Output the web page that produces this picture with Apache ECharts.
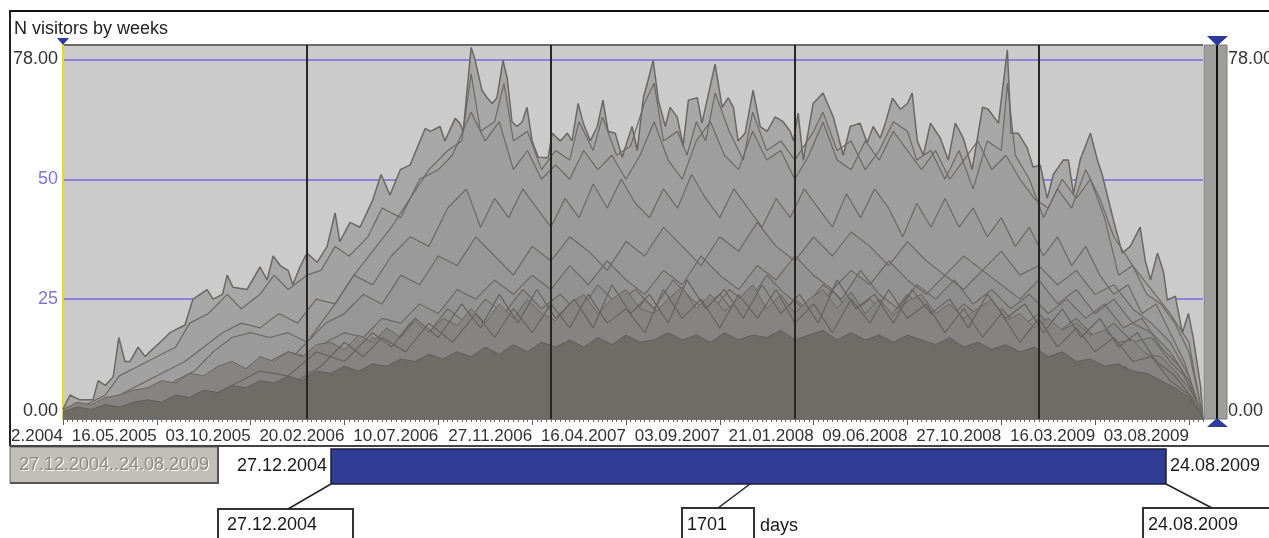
<!DOCTYPE html>
<html><head><meta charset="utf-8">
<script src="https://cdn.jsdelivr.net/npm/echarts@6/dist/echarts.min.js"></script>
<style>html,body{margin:0;padding:0;background:#fff}#c{width:1269px;height:538px}</style>
</head><body><div id="c"></div>
<script>
// ---- data (weeks since 27.12.2004, visitors) ----
const chartTitle = 'N visitors by weeks';
const tickLabels = ['27.12.2004','16.05.2005','03.10.2005','20.02.2006','10.07.2006','27.11.2006','16.04.2007','03.09.2007','21.01.2008','09.06.2008','27.10.2008','16.03.2009','03.08.2009'];
const tickWeeks = [0,20,40,60,80,100,120,140,160,180,200,220,240];
const totalWeeks = 243;
const yearMarks = [52,104,156,208];
const rangeStart = '27.12.2004';
const rangeEnd = '24.08.2009';
const rangeDays = '1701';

const envelope = [[0,2],[1.5,5],[3.6,4],[6.4,4],[7.5,8],[9,7],[10.7,8.8],[11.9,17],[13.2,12],[14.3,12],[16,15],[17.5,13],[18.5,14],[20.7,16],[22.8,18],[26,19.6],[27.7,25],[30.7,27],[32,25],[34,26],[35,30],[36.2,27.5],[39.2,27],[42,31.7],[43.5,29],[44.8,34],[46.3,32],[48,31],[49,28],[50.5,31.7],[52,34.6],[54.2,32.7],[56.3,36],[58,43],[59,37],[61.2,41],[63.3,40],[66,45.6],[67.8,51],[69.7,46.7],[71.9,52],[74,53],[77.2,60.6],[78.3,60],[80.4,61],[81.4,58],[83.6,62.7],[84.6,61.7],[85.3,60],[87,77.5],[87.8,75],[89.3,68.6],[90.4,67],[91.5,65.8],[92.5,67],[93.8,74.8],[94.7,71],[95.7,62],[96.8,61],[97.9,62],[98.9,65],[100,58],[101.3,54.6],[103.4,54.5],[104.3,59.6],[106,58],[107.5,59.6],[108.5,58],[109.8,65.8],[110.9,61.7],[112.4,58],[113.9,61],[115.1,66.5],[116.2,60],[117.7,59.6],[119.2,54.6],[120.3,58],[121.3,61],[122.4,56],[123.7,67],[124.7,70.6],[125.8,74.8],[126.9,66.5],[128.4,61],[129.4,65],[130.9,63],[132.2,57],[133.3,66.5],[135.2,67],[136.2,61.7],[137.3,66.5],[139,74],[140.5,65],[141.8,67],[142.9,65],[143.9,58],[145.4,59.6],[147.1,68.6],[148.6,61],[150.1,60],[151.8,63],[153.5,62],[155,60],[155.7,58],[156.7,63.8],[157.8,54],[159.9,65.8],[162,68],[164.2,63],[166.3,55],[167.8,61],[169.9,61.7],[171.4,57.6],[172.7,61],[174.2,58.6],[175.3,61.7],[176.8,66.9],[178.5,64.6],[180,65.8],[181,68],[182.1,58],[183.4,55],[184.9,61.7],[187,58.6],[188.7,54],[190.2,61.7],[191.9,58.6],[193.8,52],[196,65],[197.2,64.6],[199.4,61.7],[201.3,77],[202.1,59.6],[203.6,59.6],[205.5,56.6],[206.8,52.5],[208.3,53],[209.8,46],[211.1,51],[213.2,54],[214.3,54],[215.4,47],[216.8,54],[219,59.6],[220.5,54],[221.5,51],[223.9,41.5],[225.8,34.6],[227.5,36],[229.6,40],[230.7,33],[231.8,29],[233.3,34.6],[234.6,30.6],[235.4,24.8],[237.1,25.6],[238.6,18],[239.9,22],[241,16.5],[242.5,6.7],[243,0]];

const line0 = [[40,5],[46,10],[52,16],[58,24],[62,30],[66,35],[70,40],[74,46],[78,52],[82,56],[85,58],[87,72],[89,60],[92,62],[94,70],[96,58],[99,60],[102,52],[105,56],[108,54],[110,62],[113,56],[115,63],[118,55],[121,57],[124,66],[126,70],[128,58],[131,60],[133,55],[135,62],[137,58],[139,68],[142,60],[145,54],[147,64],[150,56],[153,58],[156,54],[160,60],[162,64],[165,56],[168,58],[171,52],[174,56],[177,62],[180,60],[182,54],[185,56],[188,50],[191,56],[194,48],[197,58],[200,56],[201.3,70],[203,55],[206,50],[209,42],[212,48],[215,44],[218,52],[221,46],[224,38],[228,32],[232,27],[236,22],[240,16],[243,0]];
const line1 = [[0,1],[5,3],[9,5],[12,9],[16,11],[20,13],[24,15],[27,20],[31,22],[35,26],[38,23],[42,26],[45,30],[48,27],[52,30],[55,31],[58,36],[61,34],[65,38],[68,44],[72,42],[76,50],[80,52],[83,55],[87,64],[90,58],[93,62],[96,52],[99,56],[102,50],[105,53],[108,50],[111,56],[114,52],[117,55],[120,50],[123,55],[126,62],[129,54],[132,50],[135,58],[138,62],[141,55],[144,52],[147,60],[150,54],[153,56],[156,50],[159,55],[162,62],[165,54],[168,52],[171,58],[174,54],[177,60],[180,56],[183,52],[186,56],[189,50],[192,54],[195,58],[198,52],[201,55],[204,50],[207,46],[210,44],[213,50],[216,46],[219,50],[222,42],[225,30],[228,32],[231,26],[234,24],[237,20],[240,14],[242,5],[243,0]];
const line2 = [[0,0.5],[6,2],[10,4],[14,6],[18,8],[22,10],[26,12],[30,15],[34,18],[38,20],[42,19],[46,22],[50,20],[54,25],[58,24],[62,30],[66,28],[70,34],[74,38],[78,36],[82,44],[86,48],[89,40],[92,46],[95,42],[98,48],[101,44],[104,40],[107,46],[110,42],[113,49],[116,44],[119,50],[122,45],[125,42],[128,48],[131,44],[134,51],[137,46],[140,42],[143,48],[146,44],[149,40],[152,46],[155,42],[158,48],[161,44],[164,40],[167,47],[170,42],[173,48],[176,44],[179,38],[182,45],[185,40],[188,46],[191,40],[194,44],[197,38],[200,42],[203,36],[206,40],[209,34],[212,38],[215,32],[218,36],[221,30],[224,26],[227,28],[230,22],[233,24],[236,18],[239,12],[241,6],[243,0]];
const line3 = [[8,0],[12,2],[16,4],[20,5],[24,8],[28,10],[32,14],[36,17],[40,18],[44,17],[48,18],[52,16],[56,20],[60,22],[64,26],[68,24],[72,30],[76,28],[80,34],[84,32],[88,38],[92,34],[96,30],[100,36],[104,33],[108,38],[112,35],[116,31],[120,37],[124,34],[128,40],[132,36],[136,32],[140,38],[144,35],[148,41],[152,36],[156,33],[160,38],[164,34],[168,39],[172,36],[176,32],[180,37],[184,33],[188,30],[192,34],[196,31],[200,35],[204,30],[208,32],[212,28],[216,31],[220,26],[224,28],[228,23],[232,20],[236,16],[240,9],[243,0]];
const line4 = [[20,0],[24,3],[28,5],[32,7],[36,9],[40,11],[44,12],[48,14],[52,13],[56,16],[60,18],[64,17],[68,21],[72,20],[76,24],[80,22],[84,27],[88,25],[92,29],[96,26],[100,30],[104,27],[108,32],[112,28],[116,33],[120,29],[124,26],[128,31],[132,28],[136,34],[140,30],[144,27],[148,32],[152,29],[156,34],[160,30],[164,27],[168,31],[172,28],[176,33],[180,29],[184,26],[188,30],[192,27],[196,31],[200,28],[204,25],[208,29],[212,24],[216,27],[220,22],[224,25],[228,20],[232,18],[236,14],[240,8],[243,0]];
const line5 = [[30,2],[34,4],[38,6],[42,9],[46,8],[50,12],[54,10],[58,14],[62,12],[66,17],[70,15],[74,20],[78,18],[82,23],[86,20],[90,25],[94,22],[98,27],[102,23],[106,26],[110,22],[114,28],[118,24],[122,27],[126,23],[130,29],[134,25],[138,22],[142,27],[146,24],[150,30],[154,26],[158,23],[162,28],[166,25],[170,31],[174,26],[178,23],[182,28],[186,25],[190,29],[194,24],[198,27],[202,23],[206,26],[210,22],[214,25],[218,21],[222,24],[226,19],[230,21],[234,15],[238,11],[241,5],[243,0]];
const line6 = [[40,3],[44,6],[48,5],[52,9],[56,8],[60,11],[64,10],[68,14],[72,12],[76,16],[80,15],[84,19],[88,17],[92,21],[96,18],[100,22],[104,19],[108,24],[112,20],[116,23],[120,19],[124,25],[128,21],[132,18],[136,23],[140,26],[144,21],[148,24],[152,20],[156,25],[160,22],[164,27],[168,22],[172,25],[176,21],[180,26],[184,22],[188,20],[192,24],[196,21],[200,23],[204,19],[208,22],[212,18],[216,21],[220,17],[224,20],[228,16],[232,17],[236,12],[239,9],[242,3],[243,0]];
const line7 = [[30,4],[36,7],[42,10],[48,9],[54,14],[60,12],[66,18],[70,15],[75,21],[80,17],[85,24],[89,19],[93,26],[97,20],[101,27],[105,21],[109,25],[113,19],[117,28],[121,22],[125,26],[129,20],[133,29],[137,23],[141,27],[145,21],[149,28],[153,22],[157,26],[161,20],[165,29],[169,23],[173,26],[177,20],[181,27],[185,22],[189,25],[193,19],[197,26],[201,21],[205,24],[209,18],[213,23],[217,17],[221,21],[225,15],[229,18],[233,12],[237,9],[241,4],[243,0]];
const line8 = [[50,8],[55,11],[60,16],[64,13],[68,17],[73,14],[78,20],[83,16],[88,22],[92,17],[96,23],[100,18],[104,24],[108,19],[112,26],[116,20],[120,23],[124,18],[128,27],[132,21],[136,25],[140,19],[144,26],[148,21],[152,27],[156,20],[160,24],[164,18],[168,25],[172,20],[176,27],[180,21],[184,24],[188,18],[192,23],[196,17],[200,22],[204,16],[208,21],[212,15],[216,19],[220,14],[224,17],[228,12],[232,13],[236,8],[240,5],[243,0]];
const meshBand = [[0,2],[3,3.5],[6,3],[9,4.5],[12,5],[15,6],[18,6.5],[21,8],[24,7.5],[27,9.5],[30,9],[33,11],[36,12],[39,10.5],[42,13],[45,12],[48,14],[51,13],[54,15.5],[57,16],[60,14.5],[63,17.5],[66,16],[69,19],[72,17],[75,20.5],[78,18],[81,21],[84,19.5],[87,23],[90,20],[93,24],[96,21],[99,25],[102,22],[105,20.5],[108,24],[111,26],[114,22],[117,25],[120,27],[123,23],[126,22],[129,25],[132,27.5],[135,23],[138,26],[141,22.5],[144,25],[147,28],[150,23],[153,26],[156,22],[159,25],[162,27],[165,23],[168,26.5],[171,22],[174,25],[177,21.5],[180,24.5],[183,26],[186,22],[189,24],[192,21],[195,23],[198,25],[201,20.5],[204,22],[207,19],[210,21],[213,18.5],[216,20],[219,17.5],[222,18.5],[225,16],[228,16.5],[231,13.5],[234,13],[237,10],[240,6.5],[242,3],[243,0]];
const darkBand = [[0,1.5],[3,2.5],[6,2],[9,3],[12,2.5],[15,3.5],[18,4],[21,3.5],[24,5],[27,4.5],[30,6],[33,5.5],[36,7],[39,6.5],[42,8],[45,7.5],[48,9],[51,8],[54,10],[57,9.5],[60,11],[63,10],[66,11.5],[69,11],[72,12.5],[75,12],[78,13.5],[81,12.5],[84,14],[87,13],[90,15],[93,13.5],[96,15.5],[99,14],[102,16],[105,15],[108,16.5],[111,15],[114,17],[117,15.5],[120,17.5],[123,16],[126,16.5],[129,18],[132,16.5],[135,17.5],[138,16],[141,18],[144,16.5],[147,17.5],[150,17],[153,18.5],[156,16.5],[159,17.5],[162,18.5],[165,16.5],[168,18],[171,16.5],[174,17.5],[177,16],[180,17.5],[183,16.5],[186,15.5],[189,17],[192,15],[195,16],[198,14.5],[201,15.5],[204,14],[207,15],[210,13],[213,14],[216,12],[219,12.5],[222,11],[225,11.5],[228,10],[231,9.5],[234,8],[237,6.5],[240,4.5],[242,2],[243,0]];

// ---- chart ----
const FONT = "'Liberation Sans', Arial, sans-serif";
const lineColor = '#6d6964';
const midLines = [line0, line1, line2, line3, line4, line5, line6];
const meshLines = [line7, line8];

const series = [];
series.push({type:'line', data: envelope, symbol:'none', silent:true, z:2,
  lineStyle:{color:'#6b6762', width:1.5}, areaStyle:{color:'#a7a7a7', opacity:1}});
midLines.forEach(d => series.push({type:'line', data:d, symbol:'none', silent:true, z:3,
  lineStyle:{color:lineColor, width:1.2}, areaStyle:{color:'rgba(80,78,75,0.06)'}}));
series.push({type:'line', data: meshBand, symbol:'none', silent:true, z:4,
  lineStyle:{color:'#6a6762', width:1}, areaStyle:{color:'#868482', opacity:1}});
meshLines.forEach(d => series.push({type:'line', data:d, symbol:'none', silent:true, z:4,
  lineStyle:{color:'#66635f', width:1.2}}));
series.push({type:'line', data: darkBand, symbol:'none', silent:true, z:5,
  lineStyle:{color:'#625e5a', width:1}, areaStyle:{color:'#6f6b67', opacity:1}});
series.push({type:'line', data: [[0,0]], symbol:'none', silent:true, z:8, lineStyle:{width:0},
  markLine:{silent:true, symbol:'none', z:8, label:{show:false}, animation:false,
    lineStyle:{color:'#2a2521', width:2, type:'solid'},
    data: yearMarks.map(w => ({xAxis:w}))}});

const yLabelFmt = (v) => {
  if (v === 0) return '{b|0.00}';
  if (v === 78) return '{t|78.00}';
  if (v === 25 || v === 50) return '{p|' + v + '}';
  return '';
};
const yLabelFmtRight = (v) => {
  if (v === 0) return '{b|0.00}';
  if (v === 78) return '{t|78.00}';
  return '';
};
const yRich = {
  b:{color:'#333', fontSize:18, fontFamily:FONT, padding:[0,0,16,0]},
  t:{color:'#333', fontSize:18, fontFamily:FONT, padding:[28,0,0,0]},
  p:{color:'#7f76cc', fontSize:18, fontFamily:FONT}
};

const option = {
  animation:false,
  backgroundColor:'#ffffff',
  title:{text:chartTitle, left:14, top:20, padding:0,
    textStyle:{fontSize:18, fontWeight:'normal', fontFamily:FONT, color:'#222'}},
  grid:{left:63, right:66, top:45, bottom:119, containLabel:false, outerBoundsMode:'none',
    show:true, backgroundColor:'#cbcbcb', borderWidth:0},
  xAxis:[{
    type:'value', min:0, max:totalWeeks, interval:20,
    axisLine:{show:true, lineStyle:{color:'#777', width:1}},
    axisTick:{show:true, length:6, lineStyle:{color:'#555'}, customValues: tickWeeks},
    axisLabel:{show:true, customValues: tickWeeks, align:'right', margin:9, fontSize:17,
      fontFamily:FONT, color:'#333',
      formatter:(v) => { const i = tickWeeks.indexOf(v); return i >= 0 ? tickLabels[i] : ''; }},
    splitLine:{show:false}
  },{
    type:'value', min:0, max:totalWeeks, interval:1, position:'bottom',
    axisLine:{show:false}, axisLabel:{show:false}, splitLine:{show:false},
    axisTick:{show:true, length:3, lineStyle:{color:'#666'}}
  }],
  yAxis:[{
    type:'value', min:0, max:78, interval:25, position:'left',
    axisLine:{show:true, lineStyle:{color:'#e6dc1e', width:2}},
    axisTick:{show:false},
    splitLine:{show:true, lineStyle:{color:['#777','#8a82d6','#8a82d6','#8a82d6','#6a6a6a'], width:2}},
    axisLabel:{show:true, margin:5, showMinLabel:true, showMaxLabel:true, formatter:yLabelFmt, rich:yRich}
  },{
    type:'value', min:0, max:78, interval:25, position:'right', offset:22,
    axisLine:{show:false}, axisTick:{show:false}, splitLine:{show:false},
    axisLabel:{show:true, margin:3, showMinLabel:true, showMaxLabel:true, formatter:yLabelFmtRight, rich:yRich}
  }],
  series: series,
  graphic:[
    // right slider bar
    {type:'rect', shape:{x:1204,y:45,width:23,height:374}, style:{fill:'#9e9e9c', stroke:'#7a7a78', lineWidth:1}, z:100},
    {type:'line', shape:{x1:1217,y1:38,x2:1217,y2:421}, style:{stroke:'#111', lineWidth:2}, z:101},
    {type:'polygon', shape:{points:[[1207,36],[1228,36],[1217,46]]}, style:{fill:'#2f3a9e'}, z:102},
    {type:'polygon', shape:{points:[[1207,427],[1228,427],[1217,418]]}, style:{fill:'#2f3a9e'}, z:102},
    {type:'polygon', shape:{points:[[57,38],[69,38],[63,45]]}, style:{fill:'#2f3a9e'}, z:102},
    // frame
    {type:'rect', shape:{x:0,y:420,width:9,height:26}, style:{fill:'#fff'}, z:100},
    {type:'line', shape:{x1:10,y1:11,x2:1269,y2:11}, style:{stroke:'#111', lineWidth:2}, z:101},
    {type:'line', shape:{x1:10,y1:10,x2:10,y2:446}, style:{stroke:'#222', lineWidth:2}, z:101},
    {type:'line', shape:{x1:10,y1:446,x2:1269,y2:446}, style:{stroke:'#444', lineWidth:2}, z:101},
    // range button
    {type:'rect', shape:{x:10,y:447,width:208,height:36}, style:{fill:'#c2bfba', stroke:'#6b6b6b', lineWidth:1}, z:100},
    {type:'line', shape:{x1:10,y1:483,x2:218,y2:483}, style:{stroke:'#555', lineWidth:2}, z:101},
    {type:'line', shape:{x1:218,y1:447,x2:218,y2:484}, style:{stroke:'#555', lineWidth:2}, z:101},
    {type:'text', style:{text:rangeStart+'..'+rangeEnd, x:115, y:466, fill:'#fff', font:'18px '+FONT, textAlign:'center', textVerticalAlign:'middle'}, z:101},
    {type:'text', style:{text:rangeStart+'..'+rangeEnd, x:114, y:465, fill:'#8d8a85', font:'18px '+FONT, textAlign:'center', textVerticalAlign:'middle'}, z:102},
    // blue range bar
    {type:'text', style:{text:rangeStart, x:237, y:466, fill:'#1a1a1a', font:'18px '+FONT, textAlign:'left', textVerticalAlign:'middle'}, z:101},
    {type:'rect', shape:{x:331,y:449,width:835,height:35}, style:{fill:'#2f3d97', stroke:'#1b1b3a', lineWidth:1.5}, z:100},
    {type:'text', style:{text:rangeEnd, x:1170, y:466, fill:'#1a1a1a', font:'18px '+FONT, textAlign:'left', textVerticalAlign:'middle'}, z:101},
    // connectors
    {type:'line', shape:{x1:331,y1:484,x2:288,y2:509}, style:{stroke:'#222', lineWidth:1.5}, z:101},
    {type:'line', shape:{x1:750,y1:484,x2:718,y2:508}, style:{stroke:'#222', lineWidth:1.5}, z:101},
    {type:'line', shape:{x1:1166,y1:484,x2:1212,y2:508}, style:{stroke:'#222', lineWidth:1.5}, z:101},
    // boxes
    {type:'rect', shape:{x:218,y:509,width:135,height:40}, style:{fill:'#fff', stroke:'#333', lineWidth:2}, z:100},
    {type:'text', style:{text:rangeStart, x:227, y:525, fill:'#1a1a1a', font:'18px '+FONT, textAlign:'left', textVerticalAlign:'middle'}, z:101},
    {type:'rect', shape:{x:682,y:508,width:72,height:40}, style:{fill:'#fff', stroke:'#333', lineWidth:2}, z:100},
    {type:'text', style:{text:rangeDays, x:687, y:525, fill:'#1a1a1a', font:'18px '+FONT, textAlign:'left', textVerticalAlign:'middle'}, z:101},
    {type:'text', style:{text:'days', x:760, y:526, fill:'#1a1a1a', font:'18px '+FONT, textAlign:'left', textVerticalAlign:'middle'}, z:101},
    {type:'rect', shape:{x:1143,y:508,width:140,height:40}, style:{fill:'#fff', stroke:'#333', lineWidth:2}, z:100},
    {type:'text', style:{text:rangeEnd, x:1148, y:525, fill:'#1a1a1a', font:'18px '+FONT, textAlign:'left', textVerticalAlign:'middle'}, z:101}
  ]
};
const chart = echarts.init(document.getElementById('c'), null, {renderer:'canvas'});
chart.setOption(option);
</script>
</body></html>
